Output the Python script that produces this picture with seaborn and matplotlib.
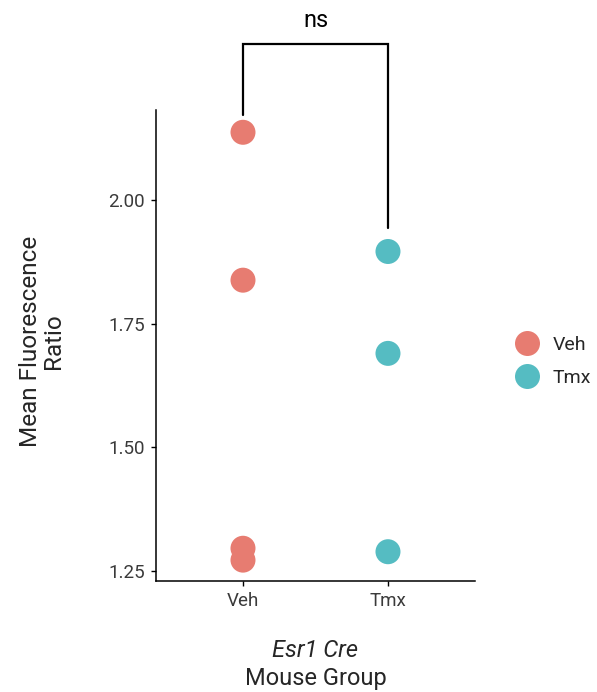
import matplotlib
matplotlib.use("Agg")
import matplotlib.pyplot as plt
import seaborn as sns
import pandas as pd

# Data
groups = ["Veh", "Veh", "Veh", "Veh", "Tmx", "Tmx", "Tmx"]
ratio = [2.137, 1.838, 1.296, 1.272, 1.896, 1.690, 1.289]
order = ["Veh", "Tmx"]
palette = {"Veh": "#E77C71", "Tmx": "#55BCC2"}
yticks = [1.25, 1.50, 1.75, 2.00]
sig_label = "ns"

df = pd.DataFrame({"group": groups, "ratio": ratio})

sns.set_theme(style="ticks")
plt.rcParams["font.family"] = ["Roboto", "DejaVu Sans"]

fig = plt.figure(figsize=(5.97, 6.92), dpi=100)
ax = fig.add_axes([0.2613, 0.1604, 0.7956 - 0.2613, 0.841 - 0.1604])

sns.stripplot(data=df, x="group", y="ratio", hue="group", order=order,
              hue_order=order, palette=palette, jitter=False, size=18,
              linewidth=0, ax=ax, legend=False)

ax.set_xlim(-0.6, 1.6)
ax.set_ylim(1.2298, 2.182)
ax.set_yticks(yticks)
ax.set_yticklabels([f"{v:.2f}" for v in yticks])
for side in ["top", "right"]:
    ax.spines[side].set_visible(False)
for side in ["left", "bottom"]:
    ax.spines[side].set_linewidth(1.1)
    ax.spines[side].set_color("black")
ax.tick_params(axis="both", color="black", labelsize=13.5, length=3.5,
               width=1.0, labelcolor="#3a3a3a", pad=4.5)
ax.set_xlabel("")
ax.set_ylabel("")

# significance bracket
ax.plot([0, 0, 1, 1], [2.172, 2.315, 2.315, 1.943], color="black", lw=1.6,
        clip_on=False, solid_joinstyle="miter")
ax.text(0.5, 2.35, sig_label, ha="center", va="baseline", fontsize=17,
        color="black", clip_on=False)

# axis titles
fig.text(42 / 597, 1 - 341 / 692, "Mean Fluorescence\nRatio", rotation=90,
         ha="center", va="center", fontsize=17.5, linespacing=0.95)
fig.text(315.5 / 597, 1 - 657 / 692, "Esr1 Cre", style="italic",
         ha="center", va="baseline", fontsize=17)
fig.text(315.5 / 597, 1 - 685 / 692, "Mouse Group",
         ha="center", va="baseline", fontsize=17)

# legend
handles = [plt.Line2D([], [], marker="o", ls="", markersize=18,
                      markerfacecolor=palette[g], markeredgewidth=0)
           for g in order]
fig.legend(handles, order, loc="center left",
           bbox_to_anchor=(511 / 597, 1 - 361.5 / 692), frameon=False,
           fontsize=14, handletextpad=0.55, labelspacing=0.75,
           handlelength=1.6, borderpad=0, borderaxespad=0)

fig.savefig("out.png", dpi=100)
